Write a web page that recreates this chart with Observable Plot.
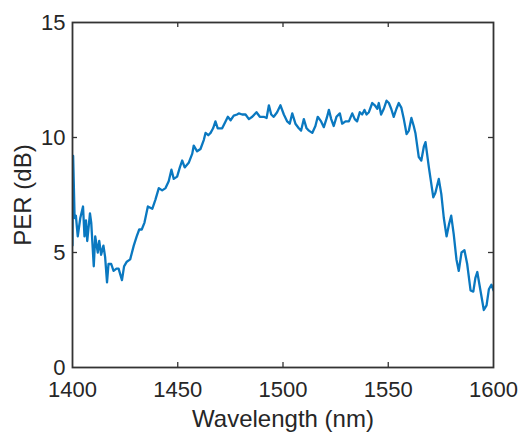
<!DOCTYPE html>
<html><head><meta charset="utf-8">
<script src="https://cdn.jsdelivr.net/npm/d3@7"></script>
<script src="https://cdn.jsdelivr.net/npm/@observablehq/plot@0.6"></script>
<style>
html,body{margin:0;padding:0;background:#fff;}
#chart svg{display:block;}
</style>
</head><body><div id="chart"></div>
<script>
const wavelength = [
1400.0,1400.3,1401.0,1401.6,1402.5,1403.7,1405.0,1405.7,1406.4,1407.0,1408.3,1408.9,1410.1,1410.8,1412.0,1412.7,1413.6,1414.7,1415.5,1416.4,1417.1,1418.4,1419.5,1420.9,1421.9,1423.5,1424.5,1425.8,1427.4,1429.1,1430.5,1431.7,1432.9,1434.2,1435.8,1437.9,1439.4,1441.0,1442.6,1444.2,1445.7,1447.0,1448.1,1449.7,1451.0,1452.1,1453.3,1455.2,1456.9,1457.6,1459.2,1460.8,1462.4,1463.2,1464.5,1465.6,1466.8,1467.9,1469.0,1471.1,1472.7,1473.8,1475.1,1476.6,1478.2,1479.0,1480.6,1482.2,1483.8,1485.4,1487.4,1489.0,1490.9,1492.2,1493.3,1494.4,1495.6,1497.2,1498.8,1500.4,1502.0,1503.2,1504.4,1505.9,1507.5,1508.6,1509.9,1511.2,1512.3,1513.9,1515.4,1516.5,1518.1,1519.4,1520.8,1521.8,1522.9,1524.1,1525.4,1527.0,1528.1,1529.7,1531.3,1532.9,1534.1,1535.2,1536.5,1537.6,1538.7,1539.7,1540.8,1542.4,1543.6,1544.8,1545.5,1546.6,1547.9,1549.2,1550.3,1551.4,1552.6,1553.9,1555.0,1556.2,1557.4,1558.7,1559.8,1561.0,1562.1,1562.9,1564.5,1565.7,1566.9,1567.7,1569.3,1571.4,1572.4,1574.0,1575.2,1576.4,1577.7,1578.8,1579.9,1581.1,1582.4,1583.5,1584.8,1586.2,1587.5,1589.1,1590.4,1591.4,1592.3,1593.8,1595.4,1596.7,1597.8,1599.0,1600.0
];
const per = [
5.3,9.2,6.5,6.6,5.7,6.5,7.0,5.7,6.4,5.5,6.7,6.3,4.4,5.7,5.0,5.5,4.9,5.3,4.8,3.7,4.5,4.5,4.2,4.3,4.3,3.8,4.4,4.6,4.7,5.3,5.7,6.0,6.0,6.3,7.0,6.9,7.3,7.8,7.7,7.8,8.1,8.6,8.2,8.3,8.7,9.0,8.7,8.9,9.3,9.65,9.4,9.5,9.9,10.2,10.1,10.2,10.4,10.7,10.4,10.4,10.7,10.9,10.75,10.95,11.0,11.05,11.0,11.0,10.8,10.9,11.1,10.9,10.9,10.85,11.4,11.0,10.9,11.1,11.4,11.0,10.7,10.6,11.05,10.6,10.4,10.3,10.8,10.4,10.3,10.2,10.5,10.9,10.7,10.45,10.85,11.2,10.8,10.5,10.9,11.05,10.6,10.7,10.7,11.05,10.8,10.7,11.1,11.0,11.2,11.0,11.1,11.5,11.4,11.25,11.5,11.0,11.25,11.6,11.5,11.25,10.9,11.25,11.5,11.3,10.8,10.15,10.3,10.85,10.5,10.2,9.15,9.0,9.6,9.8,8.7,7.4,7.6,8.2,7.55,6.5,5.7,6.2,6.6,5.8,4.7,4.2,5.0,5.1,4.5,3.35,3.3,3.9,4.15,3.35,2.5,2.7,3.4,3.6,3.35
];
const xTicks = [1400, 1450, 1500, 1550, 1600];
const yTicks = [0, 5, 10, 15];
const xInner = [1450, 1500, 1550];
const yInner = [5, 10];
const xLabel = "Wavelength (nm)";
const yLabel = "PER (dB)";

const data = wavelength.map((w, i) => ({w, p: per[i]}));

const W = 521, H = 432;
const mL = 72, mR = 28, mT = 22, mB = 65;
const ph = H - mT - mB;
const pw = W - mL - mR;
const axisColor = "#333333";
const textColor = "#262626";
const tickLen = 5;

const chart = Plot.plot({
  width: W, height: H,
  marginLeft: mL, marginRight: mR, marginTop: mT, marginBottom: mB,
  style: {fontFamily: "'Liberation Sans', Arial, Helvetica, sans-serif", color: textColor, background: "#fff"},
  x: {domain: [1400, 1600]},
  y: {domain: [0, 15]},
  marks: [
    Plot.line(data, {x: "w", y: "p", stroke: "#0a78c0", strokeWidth: 2.3, clip: true}),
    Plot.ruleX(xInner, {insetTop: ph - tickLen, stroke: axisColor, strokeWidth: 1.3}),
    Plot.ruleX(xInner, {insetBottom: ph - tickLen, stroke: axisColor, strokeWidth: 1.3}),
    Plot.ruleY(yInner, {insetRight: pw - tickLen, stroke: axisColor, strokeWidth: 1.3}),
    Plot.ruleY(yInner, {insetLeft: pw - tickLen, stroke: axisColor, strokeWidth: 1.3}),
    Plot.frame({stroke: axisColor, strokeWidth: 1.8}),
    Plot.axisX({ticks: xTicks, tickSize: 0, tickPadding: 14, fontSize: 22, tickFormat: d => String(d), label: null}),
    Plot.axisY({ticks: yTicks, tickSize: 0, tickPadding: 7, fontSize: 22, tickFormat: d => String(d), label: null}),
    Plot.text([xLabel], {text: d => d, frameAnchor: "bottom", textAnchor: "middle", lineAnchor: "top", dy: 42, fontSize: 24, fill: textColor}),
    Plot.text([yLabel], {text: d => d, frameAnchor: "left", textAnchor: "middle", lineAnchor: "top", rotate: -90, dx: -59, fontSize: 24, fill: textColor})
  ]
});
document.getElementById("chart").appendChild(chart);
</script>
</body></html>
